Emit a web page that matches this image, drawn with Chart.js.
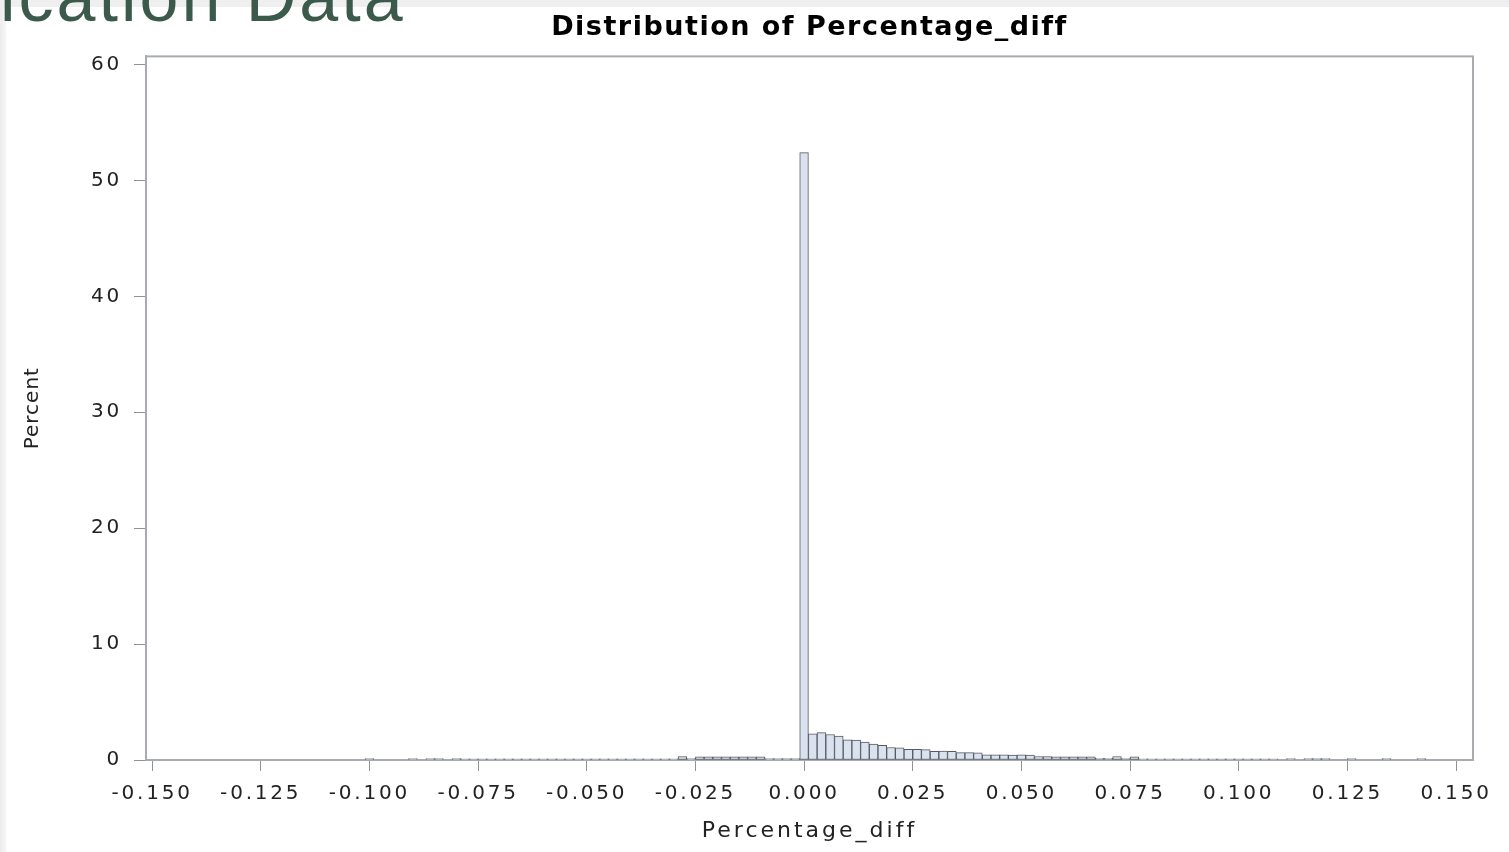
<!DOCTYPE html>
<html>
<head>
<meta charset="utf-8">
<script src="https://cdn.jsdelivr.net/npm/chart.js@4.4.1/dist/chart.umd.min.js"></script>
<style>
  body { margin: 0; background: #fff; overflow: hidden; }
  #topStrip { position: absolute; left: 0; top: 0; width: 1509px; height: 7px; background: #efefef; }
  #leftStrip { position: absolute; left: 0; top: 7px; width: 6px; height: 845px; background: linear-gradient(to right, #ececec, #f6f6f6); }
  #slideTitle { position: absolute; left: 0; top: -38px; font-family: "Liberation Sans", Arial, sans-serif; font-size: 70px; line-height: 70px; letter-spacing: 3px; color: #3b5a4b; white-space: nowrap; z-index: 3; }
  #chart { position: absolute; left: 0; top: 0; z-index: 2; }
</style>
</head>
<body>
<div id="topStrip"></div>
<div id="leftStrip"></div>
<div id="slideTitle">ication Data</div>
<canvas id="chart" width="1509" height="852"></canvas>

<script>
//////////////// DATA /////////////////////////////////
// bin midpoints (bin width 0.002), only bins that hold something
var binMid = [
  -0.100, -0.090, -0.086, -0.084, -0.080,
  -0.078, -0.076, -0.074, -0.072, -0.070, -0.068, -0.066, -0.064, -0.062, -0.060,
  -0.058, -0.056, -0.054, -0.052, -0.050, -0.048, -0.046, -0.044, -0.042, -0.040,
  -0.038, -0.036, -0.034, -0.032, -0.030,
  -0.028, -0.026, -0.024, -0.022, -0.020, -0.018, -0.016, -0.014, -0.012, -0.010,
  -0.008, -0.006, -0.004, -0.002,
  0.000,
  0.002, 0.004, 0.006, 0.008, 0.010, 0.012, 0.014, 0.016, 0.018, 0.020,
  0.022, 0.024, 0.026, 0.028, 0.030, 0.032, 0.034, 0.036, 0.038, 0.040,
  0.042, 0.044, 0.046, 0.048, 0.050, 0.052, 0.054, 0.056, 0.058, 0.060,
  0.062, 0.064, 0.066, 0.068, 0.070, 0.072, 0.074, 0.076, 0.078, 0.080,
  0.082, 0.084, 0.086, 0.088, 0.090, 0.092, 0.094, 0.096, 0.098, 0.100,
  0.102, 0.104, 0.106, 0.108, 0.112, 0.116, 0.118, 0.120, 0.126, 0.134,
  0.142
];

// percent of observations in each bin
var percent = [
  0.12, 0.12, 0.12, 0.12, 0.12,
  0.11, 0.11, 0.11, 0.11, 0.11, 0.11, 0.11, 0.11, 0.11, 0.11,
  0.11, 0.11, 0.11, 0.11, 0.11, 0.11, 0.11, 0.11, 0.11, 0.11,
  0.11, 0.11, 0.11, 0.11, 0.11,
  0.30, 0.12, 0.28, 0.28, 0.28, 0.28, 0.28, 0.28, 0.28, 0.28,
  0.12, 0.12, 0.12, 0.12,
  52.4,
  2.25, 2.36, 2.20, 2.07, 1.75, 1.72, 1.55, 1.38, 1.27, 1.08,
  1.06, 0.93, 0.92, 0.90, 0.74, 0.76, 0.74, 0.64, 0.63, 0.62,
  0.45, 0.44, 0.44, 0.43, 0.44, 0.42, 0.30, 0.29, 0.28, 0.28,
  0.28, 0.27, 0.27, 0.14, 0.14, 0.30, 0.13, 0.28, 0.11, 0.11,
  0.11, 0.11, 0.11, 0.11, 0.11, 0.11, 0.11, 0.11, 0.11, 0.11,
  0.11, 0.11, 0.11, 0.11, 0.12, 0.12, 0.12, 0.12, 0.12, 0.12,
  0.12
];

var xTicks = [-0.150, -0.125, -0.100, -0.075, -0.050, -0.025, 0.000, 0.025, 0.050, 0.075, 0.100, 0.125, 0.150];
var yTicks = [0, 10, 20, 30, 40, 50, 60];

var points = binMid.map(function (x, i) { return { x: x, y: percent[i] }; });

//////////////// PLUGINS /////////////////////////////////
// wrap a scale draw method so it runs with its own letter spacing
function withSpacing(scale, name, px) {
  var orig = scale[name];
  scale[name] = function () {
    var c = this.ctx;
    var old = c.letterSpacing;
    c.letterSpacing = px;
    orig.apply(this, arguments);
    c.letterSpacing = old;
  };
}

// wide-looking SAS lettering
var spacing = {
  id: 'spacing',
  beforeDraw: function (chart) {
    chart.ctx.letterSpacing = '1.5px';
    if (!chart._spaced) {
      withSpacing(chart.scales.x, 'drawLabels', '2.8px');
      withSpacing(chart.scales.y, 'drawLabels', '2.8px');
      withSpacing(chart.scales.x, 'drawTitle', '3px');
      withSpacing(chart.scales.y, 'drawTitle', '1px');
      chart._spaced = true;
    }
  }
};

// box round the plot area
var frame = {
  id: 'frame',
  beforeDatasetsDraw: function (chart) {
    var ctx = chart.ctx, a = chart.chartArea;
    ctx.save();
    ctx.strokeStyle = '#a8acb0';
    ctx.lineWidth = 2;
    ctx.strokeRect(a.left, a.top, a.right - a.left, a.bottom - a.top);
    ctx.restore();
  }
};

//////////////// CHART /////////////////////////////////
var ctx = document.getElementById('chart').getContext('2d');
var chart = new Chart(ctx, {
  type: 'bar',
  data: {
    datasets: [{
      label: 'Percent',
      data: points,
      backgroundColor: '#dbe2ef',
      borderColor: '#555a62',
      borderWidth: 1,
      borderSkipped: false,
      barPercentage: 1,
      categoryPercentage: 1
    }]
  },
  options: {
    responsive: false,
    animation: false,
    devicePixelRatio: 1,
    layout: { padding: { left: 0, right: 36, top: 0, bottom: 0 } },
    plugins: {
      legend: { display: false },
      tooltip: { enabled: false },
      title: {
        display: true,
        fullSize: false,
        text: 'Distribution of Percentage_diff',
        color: '#000',
        font: { family: 'DejaVu Sans', size: 27, weight: 'bold' },
        padding: { top: 12, bottom: 12 }
      }
    },
    scales: {
      x: {
        type: 'linear',
        min: -0.1514,
        max: 0.1539,
        offset: false,
        afterBuildTicks: function (scale) {
          scale.ticks = xTicks.map(function (v) { return { value: v }; });
        },
        afterFit: function (scale) { scale.height = 92; },
        ticks: {
          autoSkip: false,
          maxRotation: 0,
          color: '#222',
          padding: 11,
          font: { family: 'DejaVu Sans', size: 20 },
          callback: function (v) { return v.toFixed(3); }
        },
        grid: { offset: false, drawOnChartArea: false, tickLength: 11, color: '#8f9398' },
        border: { color: '#a8acb0', width: 2 },
        title: {
          display: true,
          text: 'Percentage_diff',
          color: '#222',
          font: { family: 'DejaVu Sans', size: 22 },
          padding: { top: 0, bottom: 8 }
        }
      },
      y: {
        min: 0,
        max: 60.7,
        afterBuildTicks: function (scale) {
          scale.ticks = yTicks.map(function (v) { return { value: v }; });
        },
        afterFit: function (scale) { scale.width = 146; },
        ticks: {
          color: '#222',
          padding: 12,
          font: { family: 'DejaVu Sans', size: 20 }
        },
        grid: { drawOnChartArea: false, tickLength: 12, color: '#8f9398' },
        border: { color: '#a8acb0', width: 2 },
        title: {
          display: true,
          text: 'Percent',
          color: '#222',
          font: { family: 'DejaVu Sans', size: 20 },
          padding: { top: 21, bottom: 0 }
        }
      }
    }
  },
  plugins: [spacing, frame]
});
</script>
</body>
</html>
